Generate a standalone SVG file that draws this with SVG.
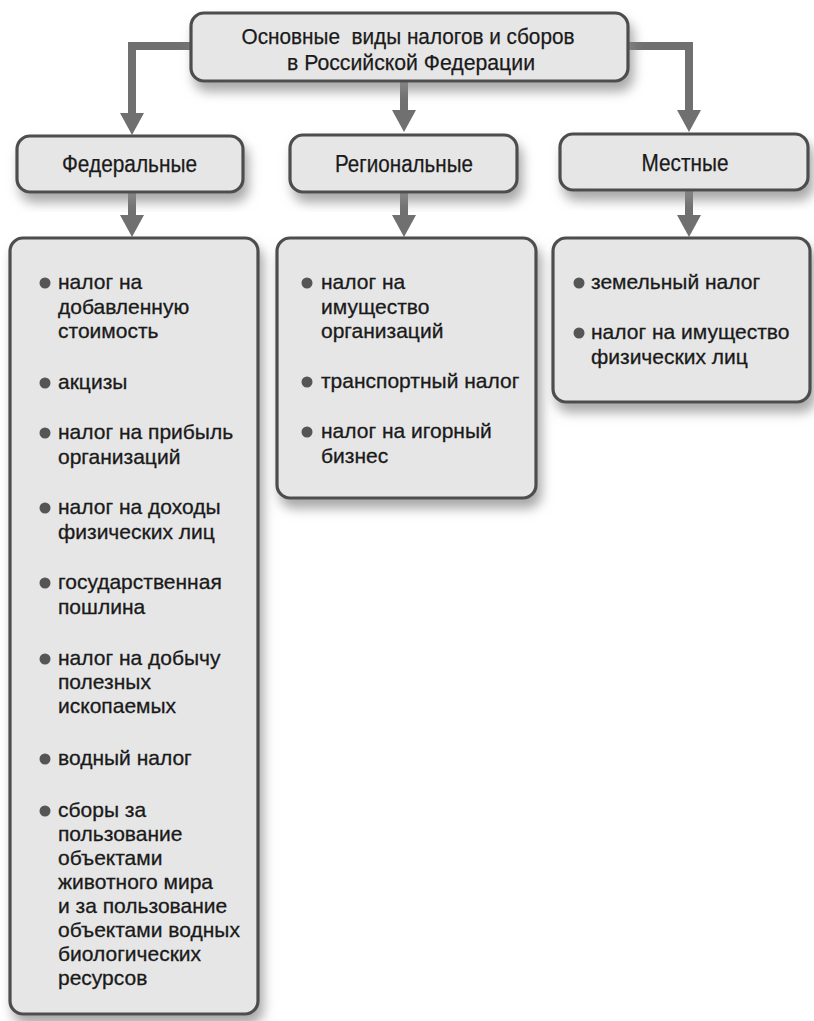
<svg xmlns="http://www.w3.org/2000/svg" width="814" height="1021" viewBox="0 0 814 1021">
<style>
.box{fill:#e6e6e6;stroke:#4d4d4d;stroke-width:3.2}
.hdr{font-family:"Liberation Sans",Arial,sans-serif;font-size:23px;fill:#1a1a1a;stroke:#1a1a1a;stroke-width:0.25;text-anchor:middle}
.ttl{font-family:"Liberation Sans",Arial,sans-serif;font-size:22px;fill:#1a1a1a;stroke:#1a1a1a;stroke-width:0.25;text-anchor:middle}
.itm{font-family:"Liberation Sans",Arial,sans-serif;font-size:21px;fill:#1a1a1a;stroke:#1a1a1a;stroke-width:0.3}
.bul{fill:#555}
.con{fill:none;stroke:#707070;stroke-width:8}
.head{fill:#707070}
</style>
<defs>
<filter id="sh" x="-10%" y="-10%" width="125%" height="145%">
<feDropShadow dx="4" dy="9" stdDeviation="6" flood-color="#8a8a8a" flood-opacity="0.75"/>
</filter>
</defs>
<rect width="814" height="1021" fill="#ffffff"/>

<g id="connectors">
<path class="con" d="M190 46 H132 V116"/>
<polygon class="head" points="120,113 144,113 132,135"/>
<path class="con" d="M404 81 V112"/>
<polygon class="head" points="392,110 416,110 404,132"/>
<path class="con" d="M628 46 H689 V112"/>
<polygon class="head" points="677,110 701,110 689,132"/>
<path class="con" d="M132 192 V218"/>
<polygon class="head" points="120,215 144,215 132,237"/>
<path class="con" d="M404 191 V218"/>
<polygon class="head" points="392,215 416,215 404,237"/>
<path class="con" d="M689 190 V218"/>
<polygon class="head" points="677,215 701,215 689,237"/>
</g>

<g id="root">
<rect class="box" x="191" y="13" width="437" height="68" rx="13" filter="url(#sh)"/>
<text class="ttl" x="408" y="44" textLength="333" lengthAdjust="spacingAndGlyphs" xml:space="preserve">Основные  виды налогов и сборов</text>
<text class="ttl" x="411" y="70" textLength="248" lengthAdjust="spacingAndGlyphs">в Российской Федерации</text>
</g>

<g id="federal">
<rect class="box" x="17" y="136" width="226" height="56" rx="13" filter="url(#sh)"/>
<text class="hdr" x="129.5" y="172" textLength="135" lengthAdjust="spacingAndGlyphs">Федеральные</text>
</g>
<g id="regional">
<rect class="box" x="290" y="135" width="227" height="57" rx="13" filter="url(#sh)"/>
<text class="hdr" x="404" y="172" textLength="138" lengthAdjust="spacingAndGlyphs">Региональные</text>
</g>
<g id="local">
<rect class="box" x="560" y="134" width="248" height="56" rx="13" filter="url(#sh)"/>
<text class="hdr" x="685" y="171" textLength="87" lengthAdjust="spacingAndGlyphs">Местные</text>
</g>

<g id="federal-list">
<rect class="box" x="10" y="238" width="248" height="776" rx="13" filter="url(#sh)"/>
<circle class="bul" cx="45" cy="283" r="5.5"/>
<circle class="bul" cx="45" cy="383" r="5.5"/>
<circle class="bul" cx="45" cy="433" r="5.5"/>
<circle class="bul" cx="45" cy="508" r="5.5"/>
<circle class="bul" cx="45" cy="583" r="5.5"/>
<circle class="bul" cx="45" cy="659" r="5.5"/>
<circle class="bul" cx="45" cy="759" r="5.5"/>
<circle class="bul" cx="45" cy="811" r="5.5"/>
<text class="itm" x="58" y="289">налог на</text>
<text class="itm" x="58" y="313.5">добавленную</text>
<text class="itm" x="58" y="338">стоимость</text>
<text class="itm" x="58" y="389">акцизы</text>
<text class="itm" x="58" y="439">налог на прибыль</text>
<text class="itm" x="58" y="463.5">организаций</text>
<text class="itm" x="58" y="514">налог на доходы</text>
<text class="itm" x="58" y="538.5">физических лиц</text>
<text class="itm" x="58" y="589">государственная</text>
<text class="itm" x="58" y="613.5">пошлина</text>
<text class="itm" x="58" y="665">налог на добычу</text>
<text class="itm" x="58" y="689">полезных</text>
<text class="itm" x="58" y="713">ископаемых</text>
<text class="itm" x="58" y="765">водный налог</text>
<text class="itm" x="58" y="817">сборы за</text>
<text class="itm" x="58" y="841">пользование</text>
<text class="itm" x="58" y="865">объектами</text>
<text class="itm" x="58" y="889">животного мира</text>
<text class="itm" x="58" y="913">и за пользование</text>
<text class="itm" x="58" y="937">объектами водных</text>
<text class="itm" x="58" y="961">биологических</text>
<text class="itm" x="58" y="985">ресурсов</text>
</g>

<g id="regional-list">
<rect class="box" x="277" y="238" width="259" height="260" rx="13" filter="url(#sh)"/>
<circle class="bul" cx="307" cy="283" r="5.5"/>
<circle class="bul" cx="307" cy="382" r="5.5"/>
<circle class="bul" cx="307" cy="432" r="5.5"/>
<text class="itm" x="321" y="289">налог на</text>
<text class="itm" x="321" y="313.5">имущество</text>
<text class="itm" x="321" y="338">организаций</text>
<text class="itm" x="321" y="388">транспортный налог</text>
<text class="itm" x="321" y="438">налог на игорный</text>
<text class="itm" x="321" y="462.5">бизнес</text>
</g>

<g id="local-list">
<rect class="box" x="553" y="238" width="257" height="164" rx="13" filter="url(#sh)"/>
<circle class="bul" cx="579" cy="283" r="5.5"/>
<circle class="bul" cx="579" cy="333" r="5.5"/>
<text class="itm" x="591" y="289">земельный налог</text>
<text class="itm" x="591" y="339">налог на имущество</text>
<text class="itm" x="591" y="363.5">физических лиц</text>
</g>
</svg>
